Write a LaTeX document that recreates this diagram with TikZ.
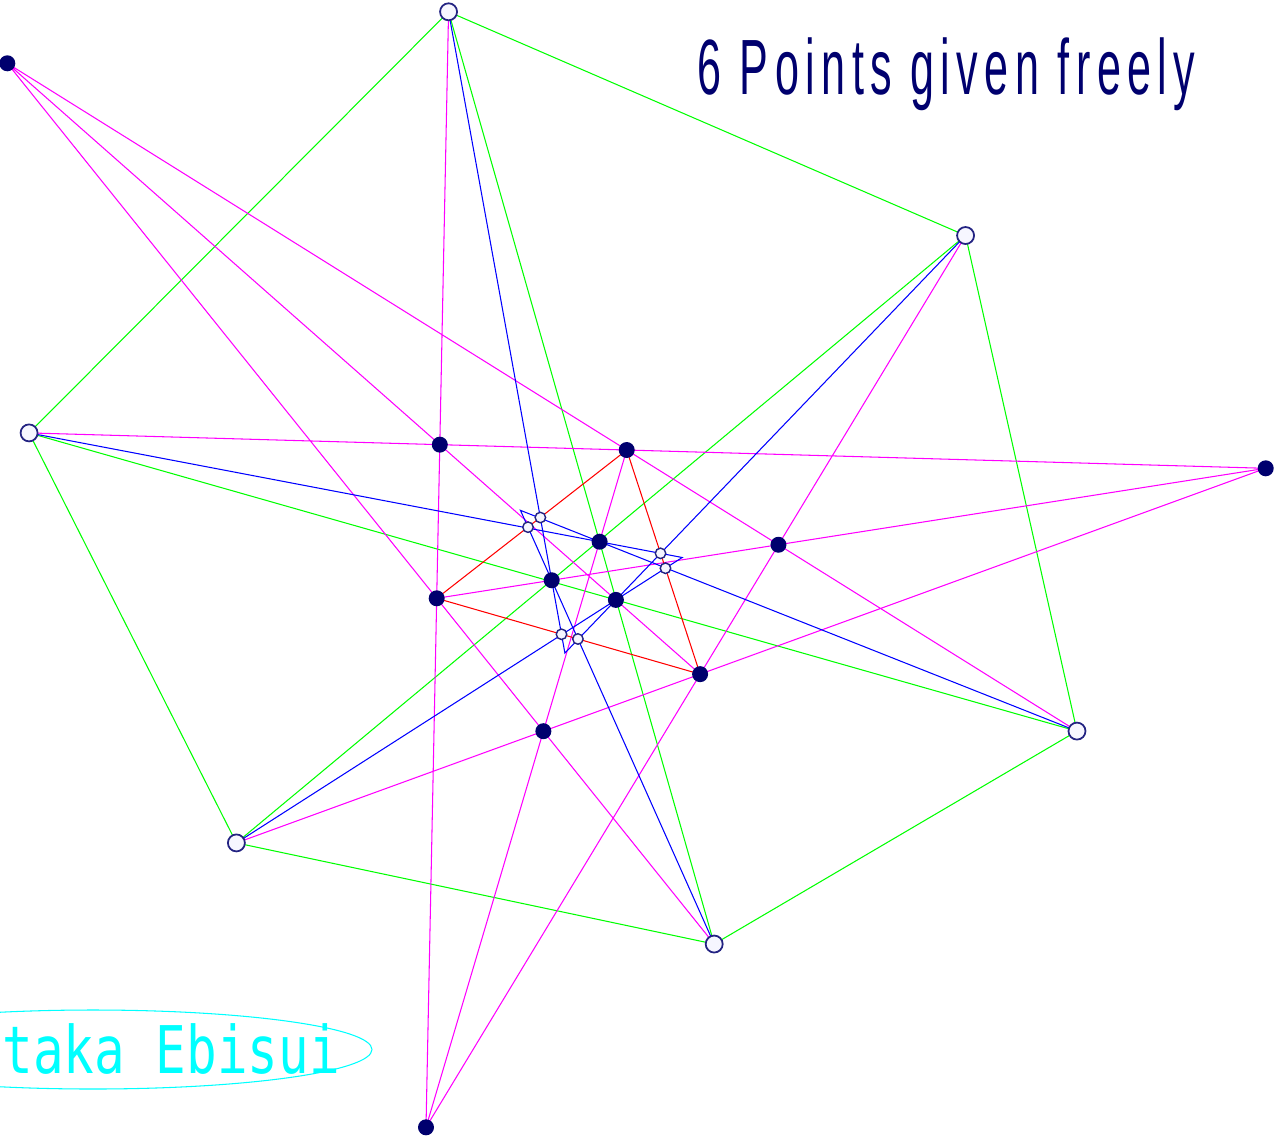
\documentclass[tikz,border=0pt]{standalone}
\usepackage{fontspec}
\usepackage{graphicx}
\usetikzlibrary{calc}
\newfontfamily\titlefont[LetterSpace=15]{Liberation Sans}
\newfontfamily\authorfont{DejaVu Sans Mono}
\definecolor{dotnavy}{RGB}{0,0,110}
\definecolor{ringnavy}{RGB}{35,35,130}
\definecolor{ringfill}{RGB}{246,246,255}
\definecolor{sidegreen}{RGB}{0,255,0}
\definecolor{raymagenta}{RGB}{255,0,255}
\definecolor{cevblue}{RGB}{0,0,255}
\definecolor{trired}{RGB}{255,0,0}
\definecolor{signcyan}{RGB}{0,255,255}

\begin{document}
\begin{tikzpicture}[
    x=0.1mm, y=-0.1mm,
    line width=0.3pt,
    given/.style={circle, draw=ringnavy, fill=ringfill, line width=0.5pt, inner sep=0pt, minimum size=1.7mm},
    hit/.style={circle, fill=dotnavy, inner sep=0pt, minimum size=1.6mm},
    meet/.style={circle, draw=ringnavy, fill=ringfill, line width=0.4pt, inner sep=0pt, minimum size=1.05mm},
    side/.style={draw=sidegreen},
    ray/.style={draw=raymagenta},
    cev/.style={draw=cevblue},
    tri/.style={draw=trired}
]
    \clip (0,0) rectangle (1278,1139);

    % three far points and two corners of the red triangle; the rest follows
    \coordinate (q1) at (7.3,63.3);
    \coordinate (q2) at (1265.7,468.3);
    \coordinate (q3) at (426,1127.3);
    \coordinate (p2) at (626.7,450);
    \coordinate (p5) at (436.7,598.3);
    \coordinate (p4) at (intersection of q1--p2 and q2--p5);
    \coordinate (p1) at (intersection of q2--p2 and q3--p5);
    \coordinate (p9) at (intersection of q3--p2 and q1--p5);
    \coordinate (p8) at (intersection of q1--p1 and q2--p9);

    % the six given points sit on those lines
    \coordinate (a) at ($(q3)!(448.3,11.7)!(p5)$);
    \coordinate (b) at ($(q3)!(967.7,236.7)!(p4)$);
    \coordinate (c) at ($(q1)!(1077.7,730)!(p2)$);
    \coordinate (d) at ($(q1)!(715.3,943.3)!(p5)$);
    \coordinate (e) at ($(q2)!(236.3,842.7)!(p8)$);
    \coordinate (f) at ($(q2)!(29,431.5)!(p2)$);

    % points on the long diagonals
    \coordinate (p3) at (intersection of a--d and q3--p2);
    \coordinate (p6) at (intersection of b--e and q2--p5);
    \coordinate (p7) at (intersection of c--f and q1--p8);

    % tips of the small blue triangles
    \coordinate (tab) at (intersection of a--p6 and b--p7);
    \coordinate (tcd) at (intersection of c--p3 and d--p6);
    \coordinate (tef) at (intersection of e--p7 and f--p3);

    % blue meets red
    \coordinate (m1) at (intersection of p2--p5 and a--p6);
    \coordinate (m2) at (intersection of p2--p5 and d--p6);
    \coordinate (m3) at (intersection of p2--p8 and b--p7);
    \coordinate (m4) at (intersection of p2--p8 and e--p7);
    \coordinate (m5) at (intersection of p5--p8 and a--p6);
    \coordinate (m6) at (intersection of p5--p8 and d--p6);

    % hexagon and its diagonals
    \draw[side] (a) -- (b) -- (c) -- (d) -- (e) -- (f) -- cycle;
    \draw[side] (a) -- (d) (b) -- (e) (c) -- (f);

    \draw[ray] (q1) -- (c) (q1) -- (d) (q1) -- (p8)
               (q2) -- (f) (q2) -- (e) (q2) -- (p5)
               (q3) -- (a) (q3) -- (b) (q3) -- (p2);

    \draw[cev] (a) -- (tab) -- (b) (c) -- (tcd) -- (d) (e) -- (tef) -- (f);

    \draw[tri] (p2) -- (p5) -- (p8) -- cycle;

    % dots
    \foreach \i in {1,...,9} \node[hit] (P\i) at (p\i) {};
    \foreach \i in {1,2,3} \node[hit] (Q\i) at (q\i) {};
    \foreach \i in {1,...,6} \node[meet] (M\i) at (m\i) {};
    \foreach \n/\N in {a/A,b/B,c/C,d/D,e/E,f/F} \node[given] (\N) at (\n) {};

    \node[text=dotnavy, anchor=base west, inner sep=0pt] (title) at (697,94)
        {\scalebox{0.55}[1]{\titlefont\fontsize{22.3}{26}\selectfont 6 Points given freely}};

    \node[text=signcyan, anchor=base west, inner sep=0pt] (author) at (2,1073)
        {\scalebox{0.775}[1]{\authorfont\fontsize{18.7}{22}\selectfont taka Ebisui}};
    \draw[signcyan] (93,1049.5) ellipse [x radius=279, y radius=39.5];
\end{tikzpicture}
\end{document}
